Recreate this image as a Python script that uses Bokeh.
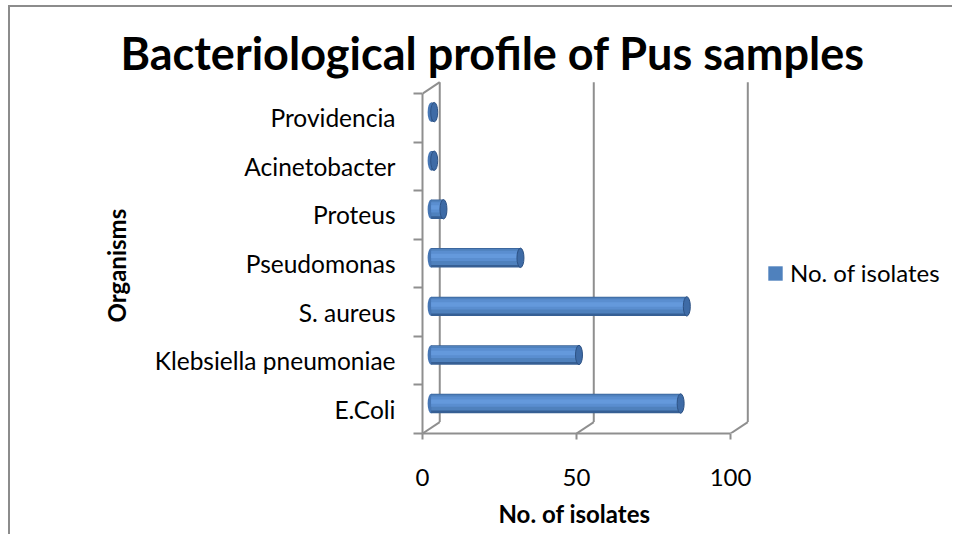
from bokeh.plotting import figure
from bokeh.models import (Range1d, LinearAxis, FixedTicker, Legend, LegendItem,
                          ColumnDataSource, Title)
from bokeh.embed import file_html
from bokeh.resources import INLINE

# ---------------- data ----------------
organisms = ["E.Coli", "Klebsiella pneumoniae", "S. aureus", "Pseudomonas",
             "Proteus", "Acinetobacter", "Providencia"]
isolates = [81, 48, 83, 29, 4, 1, 1]
x_ticks = [0, 50, 100]
title_text = "Bacteriological profile of Pus samples"
x_title = "No. of isolates"
y_title = "Organisms"
series_name = "No. of isolates"

# ---------------- style ----------------
FONT = "Lato"
GRAY = "#8f8f8f"
DX, DY = 5.6, 0.235      # depth of the 3-D wall (data units)
BAR_H = 0.40
n = len(organisms)
X_MAX = 172.7
Y_MAX = 7.29

p = figure(width=944, height=529, x_range=Range1d(0, X_MAX), y_range=Range1d(0, Y_MAX),
           output_backend="svg", toolbar_location=None,
           x_axis_type=None, y_axis_type=None,
           min_border_left=412, min_border_right=0,
           min_border_top=72, min_border_bottom=103)
p.outline_line_color = None
p.background_fill_color = "white"
p.border_fill_color = "white"
p.styles = {"margin-left": "8px", "margin-top": "5px",
            "border-top": "2px solid #8c8c8c", "border-left": "2px solid #8c8c8c"}

# title
p.title.text = title_text
p.title.align = "left"
p.title.offset = -302
p.title.standoff = -1
p.title.text_font = FONT
p.title.text_font_size = "45px"
p.title.text_font_style = "bold"
p.title.text_color = "black"

# x axis
xaxis = LinearAxis(ticker=FixedTicker(ticks=x_ticks), bounds=(x_ticks[0], x_ticks[-1]))
xaxis.axis_line_color = GRAY
xaxis.axis_line_width = 2
xaxis.major_tick_in = 0
xaxis.major_tick_out = 6
xaxis.major_tick_line_color = GRAY
xaxis.major_tick_line_width = 2
xaxis.minor_tick_line_color = None
xaxis.major_label_text_font = FONT
xaxis.major_label_text_font_size = "24px"
xaxis.major_label_text_color = "black"
xaxis.major_label_standoff = 29
p.add_layout(xaxis, "below")
p.add_layout(Title(text=x_title, align="left", offset=76, standoff=16,
                   text_font=FONT, text_font_size="24px", text_font_style="bold",
                   text_color="black"), "below")

# y axis (labels at category centres, tick marks at boundaries)
centers = [i + 0.5 for i in range(n)]
yaxis = LinearAxis(ticker=FixedTicker(ticks=centers, minor_ticks=list(range(n + 1))),
                   bounds=(0, n))
yaxis.major_label_overrides = {c: name for c, name in zip(centers, organisms)}
yaxis.axis_line_color = GRAY
yaxis.axis_line_width = 2
yaxis.major_tick_in = 0
yaxis.major_tick_out = 0
yaxis.major_tick_line_color = None
yaxis.minor_tick_in = 0
yaxis.minor_tick_out = 9
yaxis.minor_tick_line_color = GRAY
yaxis.minor_tick_line_width = 2
yaxis.major_label_text_font = FONT
yaxis.major_label_text_font_size = "24.5px"
yaxis.major_label_text_color = "black"
yaxis.major_label_standoff = 18
p.add_layout(yaxis, "left")
p.add_layout(Title(text=y_title, align="left", offset=111, standoff=42,
                   text_font=FONT, text_font_size="24px", text_font_style="bold",
                   text_color="black"), "left")

# 3-D wall / floor lines derived from the x ticks
x0s, y0s, x1s, y1s = [], [], [], []
for t in x_ticks:
    x0s += [t + DX, t]
    y0s += [DY, 0]
    x1s += [t + DX, t + DX]
    y1s += [n + DY, DY]
x0s.append(0); y0s.append(n); x1s.append(DX); y1s.append(n + DY)
wall = ColumnDataSource(dict(x0=x0s, y0=y0s, x1=x1s, y1=y1s))
p.segment(x0="x0", y0="y0", x1="x1", y1="y1", source=wall,
          line_color=GRAY, line_width=2)

# cylinder bars (mid depth)
yc = [i + 0.5 + DY / 2 for i in range(n)]
src = ColumnDataSource(dict(
    y=yc,
    y2=[v + 0.02 for v in yc],
    y3=[v + 0.04 for v in yc],
    right=[v + DX / 2 for v in isolates],
))
left = DX / 2
p.ellipse(x=left, y="y", width=7, height=BAR_H, width_units="screen", source=src,
          fill_color="#4676B4", line_color=None)
p.hbar(y="y", left=left, right="right", height=BAR_H, source=src,
       fill_color="#365F94", line_color=None)
r_mid = p.hbar(y="y2", left=left, right="right", height=0.33, source=src,
               fill_color="#4F81BD", line_color=None)
p.hbar(y="y3", left=left, right="right", height=0.21, source=src,
       fill_color="#5A8ED0", line_color=None)
p.hbar(y="y3", left=left, right="right", height=0.09, source=src,
       fill_color="#6499DC", line_color=None)
p.ellipse(x="right", y="y", width=7, height=BAR_H, width_units="screen", source=src,
          fill_color="#3E6BA6", line_color="#2D5284", line_width=1)

# legend (inside the frame, right of the wall)
legend = Legend(items=[LegendItem(label=series_name, renderers=[r_mid])],
                location=(344, 146), glyph_width=18, glyph_height=18,
                label_standoff=6, padding=0, margin=0, spacing=0,
                border_line_color=None, background_fill_alpha=0,
                label_text_font=FONT, label_text_font_size="24px",
                label_text_color="black")
p.add_layout(legend)

open("out.html", "w").write(file_html(p, INLINE))
